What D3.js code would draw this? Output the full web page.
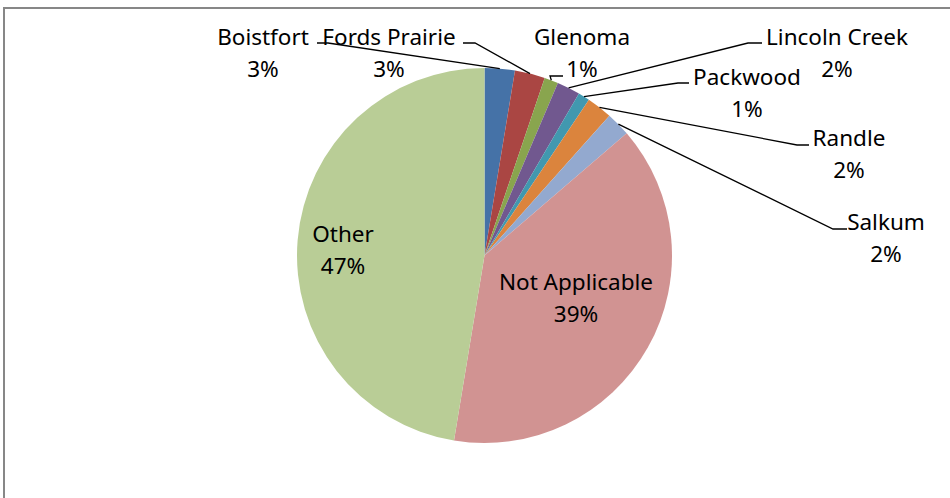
<!DOCTYPE html>
<html>
<head>
<meta charset="utf-8">
<script src="https://cdn.jsdelivr.net/npm/d3@7"></script>
<style>
  body { margin: 0; background: #fff; }
  text { font-family: "Noto Sans", "Open Sans", sans-serif; font-size: 22.5px; fill: #000; }
</style>
</head>
<body>
<div id="chart"></div>
<script>
// data
let categories = [`Boistfort`, `Fords Prairie`, `Glenoma`, `Lincoln Creek`, `Packwood`, `Randle`, `Salkum`, `Not Applicable`, `Other`];
let shares = [2.6, 2.6, 1.2, 2.0, 1.0, 2.2, 2.1, 38.9, 47.4];
let colors = [`#4572A7`, `#AA4643`, `#89A54E`, `#71588F`, `#4198AF`, `#DB843D`, `#93A9CF`, `#D19392`, `#B9CD96`];

// label layout: text anchor (centre x, first baseline), leader elbow and end
let labelPos = [
    {x: 263, y: 45, elbow: [328, 43], end: [317, 43]},
    {x: 389, y: 45, elbow: [475, 43], end: [463, 43]},
    {x: 582, y: 45, elbow: [550, 76], end: [563, 76]},
    {x: 837, y: 45, elbow: [748, 43], end: [762, 43]},
    {x: 747, y: 85, elbow: [678, 83], end: [689, 83]},
    {x: 849, y: 146, elbow: [797, 145], end: [809, 145]},
    {x: 886, y: 230, elbow: [833, 229], end: [847, 229]},
    {x: 576, y: 290},
    {x: 343, y: 242}
];

let W = 950, H = 498;
let cx = 484.5, cy = 255.5, r = 187.5;

let svg = d3.select(`#chart`).append(`svg`)
    .attr(`width`, W)
    .attr(`height`, H);

// chart frame
svg.append(`rect`)
    .attr(`x`, 4).attr(`y`, 8)
    .attr(`width`, W + 10).attr(`height`, H + 10)
    .attr(`fill`, `none`)
    .attr(`stroke`, `#878787`)
    .attr(`stroke-width`, 2);

let data = categories.map((c, i) => ({name: c, value: shares[i], color: colors[i], pos: labelPos[i]}));
let total = d3.sum(shares);

let pie = d3.pie().sort(null).value(d => d.value);
let arcs = pie(data);
let arc = d3.arc().innerRadius(0).outerRadius(r);

let g = svg.append(`g`).attr(`transform`, `translate(${cx},${cy})`);

g.selectAll(`path`)
    .data(arcs)
    .enter()
    .append(`path`)
    .attr(`d`, arc)
    .attr(`fill`, d => d.data.color);

// leader lines
let line = d3.line();
arcs.filter(d => d.data.pos.elbow).forEach(d => {
    let a = (d.startAngle + d.endAngle) / 2;
    let p = [cx + r * Math.sin(a), cy - r * Math.cos(a)];
    svg.append(`path`)
        .attr(`d`, line([p, d.data.pos.elbow, d.data.pos.end]))
        .attr(`fill`, `none`)
        .attr(`stroke`, `#000`)
        .attr(`stroke-width`, 1.3);
});

// labels
let labels = svg.selectAll(`text.label`)
    .data(arcs)
    .enter()
    .append(`text`)
    .attr(`class`, `label`)
    .attr(`text-anchor`, `middle`);

labels.append(`tspan`)
    .attr(`x`, d => d.data.pos.x)
    .attr(`y`, d => d.data.pos.y)
    .text(d => d.data.name);

labels.append(`tspan`)
    .attr(`x`, d => d.data.pos.x)
    .attr(`y`, d => d.data.pos.y + 32)
    .text(d => Math.round(d.data.value / total * 100) + `%`);
</script>
</body>
</html>
